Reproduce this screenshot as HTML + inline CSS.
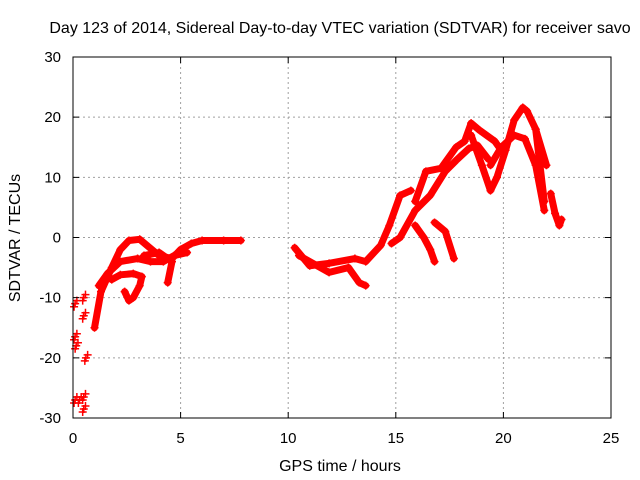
<!DOCTYPE html>
<html><head><meta charset="utf-8"><style>
body{margin:0;background:#fff}
svg{display:block;font-family:"Liberation Sans",sans-serif}
</style></head><body>
<svg id="chart" width="640" height="480" viewBox="0 0 640 480">
<rect width="640" height="480" fill="#fff"/>
<text x="340" y="33" font-size="16" text-anchor="middle" fill="#000">Day 123 of 2014, Sidereal Day-to-day VTEC variation (SDTVAR) for receiver savo</text>
<g id="grid"></g>
<g id="series"></g>
<rect x="73" y="57" width="538" height="361" fill="none" stroke="#000" stroke-width="1"/>
<g id="axes"></g>
<text x="340" y="471" font-size="16" text-anchor="middle">GPS time / hours</text>
<text transform="translate(20,238) rotate(-90)" font-size="16" text-anchor="middle">SDTVAR / TECUs</text>
</svg>
<script>
const xTicks=[0,5,10,15,20,25];
const yTicks=[-30,-20,-10,0,10,20,30];
const isolated=[[0.1,-11],[0.1,-16.5],[0.15,-18],[0.5,-10],[0.5,-13],[0.6,-20],[0.1,-27],[0.5,-26.5],[0.5,-28.5],[0.3,-27]];
const track1=[[1.0,-15],[1.3,-9],[1.8,-5],[2.2,-2],[2.6,-0.5],[3.1,-0.3],[3.5,-1.5],[4.0,-3],[4.6,-3.5],[5.0,-2],[5.5,-1],[6.0,-0.5],[7.0,-0.5],[7.8,-0.5]];
const track2=[[1.2,-8],[1.6,-6],[2.2,-4],[3.0,-3.5],[3.6,-4],[4.2,-4],[4.7,-3],[5.3,-2.5]];
const track3=[[1.8,-7],[2.2,-6.2],[2.8,-6],[3.2,-6.5],[3.1,-8],[2.8,-10],[2.6,-10.5],[2.4,-9]];
const track4=[[3.3,-3],[4.0,-2.5],[4.6,-4],[4.4,-7.5]];
const track5=[[10.3,-1.7],[11.0,-4.7],[11.9,-4.3],[13.1,-3.5],[13.6,-4],[14.3,-1.3],[14.7,2],[15.2,7],[15.7,7.8]];
const track6=[[10.5,-3],[11.9,-5.8],[12.8,-5],[13.3,-7.5],[13.6,-8]];
const track7=[[15.9,2],[16.3,0],[16.6,-2],[16.8,-4]];
const track8=[[16.8,2.5],[17.3,1],[17.7,-3.5]];
const track9=[[14.8,-1],[15.2,0],[15.9,4.5],[16.6,7],[17.3,11],[17.8,12.8],[18.4,14.8],[18.8,15.3],[19.3,13]];
const track10=[[15.9,6],[16.4,11],[17.1,11.5],[17.8,15],[18.2,16],[18.5,19],[18.9,17.8],[19.6,16],[19.9,14.5]];
const track11=[[18.5,17],[19.0,12],[19.4,7.8],[19.7,10],[20.1,14.5],[20.5,19.5],[20.9,21.6],[21.1,21],[21.5,18],[21.9,6]];
const track12=[[19.4,12],[19.9,15],[20.5,17],[21.0,16.4],[21.5,12],[21.9,4.5]];
const track13=[[21.5,18],[22.0,12]];
const track14=[[22.2,7.3],[22.4,4],[22.6,2],[22.7,3]];
const tracks=[track1,track2,track3,track4,track5,track6,track7,track8,track9,track10,track11,track12,track13,track14];
const NS='http://www.w3.org/2000/svg';
const X=h=>73+h*538/25;
const Y=v=>237.5-v*361/60;
function mk(t){return document.createElementNS(NS,t);}
const grid=document.getElementById('grid'),axes=document.getElementById('axes'),ser=document.getElementById('series');
xTicks.forEach(t=>{
 const x=X(t);
 if(t>0&&t<25){const l=mk('line');l.setAttribute('x1',x);l.setAttribute('x2',x);l.setAttribute('y1',57);l.setAttribute('y2',418);l.setAttribute('stroke','#a0a0a0');l.setAttribute('stroke-dasharray','2,3');
 
 
 grid.appendChild(l);}
 const tk=mk('path');tk.setAttribute('d',`M${x},418v-6M${x},57v6`);tk.setAttribute('stroke','#000');
 
 
 axes.appendChild(tk);
 const tx=mk('text');tx.setAttribute('x',x);tx.setAttribute('y',443);tx.setAttribute('font-size','15');tx.setAttribute('text-anchor','middle');tx.textContent=t;
 
 
 axes.appendChild(tx);
});
yTicks.forEach(t=>{
 const y=Y(t);
 if(t>-30&&t<30){const l=mk('line');l.setAttribute('x1',73);l.setAttribute('x2',611);l.setAttribute('y1',y);l.setAttribute('y2',y);l.setAttribute('stroke','#a0a0a0');l.setAttribute('stroke-dasharray','2,3');
 
 
 grid.appendChild(l);}
 const tk=mk('path');tk.setAttribute('d',`M73,${y}h6M611,${y}h-6`);tk.setAttribute('stroke','#000');
 
 
 axes.appendChild(tk);
 const tx=mk('text');tx.setAttribute('x',61);tx.setAttribute('y',y+5);tx.setAttribute('font-size','15');tx.setAttribute('text-anchor','end');tx.textContent=t;
 
 
 axes.appendChild(tx);
});
function plus(h,v){
 const p=mk('path');const x=X(h),y=Y(v);
 p.setAttribute('d',`M${x-4},${y}h8M${x},${y-4}v8`);p.setAttribute('stroke','#f00');p.setAttribute('stroke-width','1.5');
 
 
 ser.appendChild(p);
}
tracks.forEach(tr=>{
 const pl=mk('polyline');
 pl.setAttribute('points',tr.map(p=>X(p[0])+','+Y(p[1])).join(' '));
 pl.setAttribute('fill','none');pl.setAttribute('stroke','#f00');pl.setAttribute('stroke-width','7');pl.setAttribute('stroke-linejoin','round');pl.setAttribute('stroke-linecap','round');
 
 
 ser.appendChild(pl);
 tr.forEach(p=>plus(p[0],p[1]));
});
isolated.forEach(p=>{plus(p[0],p[1]);plus(p[0]+0.08,p[1]+0.5);plus(p[0]-0.05,p[1]-0.5);});
</script>
</body></html>
